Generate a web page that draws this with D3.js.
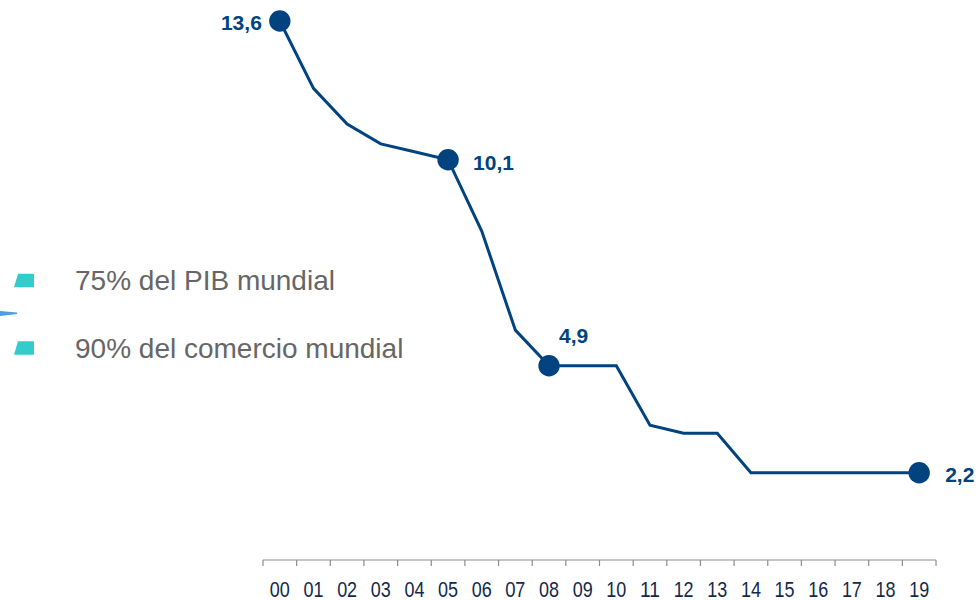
<!DOCTYPE html>
<html>
<head>
<meta charset="utf-8">
<script src="https://cdn.jsdelivr.net/npm/d3@7"></script>
<style>
  html, body { margin: 0; padding: 0; background: #ffffff; }
  svg { display: block; }
</style>
</head>
<body>
<svg id="chart" width="980" height="600"></svg>
<script>
// ---- data ----
const years = ["00","01","02","03","04","05","06","07","08","09","10","11","12","13","14","15","16","17","18","19"];
const values = [13.6, 11.9, 11.0, 10.5, 10.3, 10.1, 8.3, 5.8, 4.9, 4.9, 4.9, 3.4, 3.2, 3.2, 2.2, 2.2, 2.2, 2.2, 2.2, 2.2];
const highlighted = ["00", "05", "08", "19"];
const highlightLabels = ["13,6", "10,1", "4,9", "2,2"];
const legendItems = ["75% del PIB mundial", "90% del comercio mundial"];

// ---- layout ----
const svg = d3.select("#chart");
const lineColor = "#00437f";
const axisY = 560;

const x = d3.scaleBand().domain(years).range([263, 936]).padding(0);
const y = d3.scaleLinear().domain([0, 13.6]).range([axisY, 21]);
const cx = d => x(d) + x.bandwidth() / 2;

// ---- axis ----
const axisG = svg.append("g");
axisG.append("line")
  .attr("x1", x.range()[0]).attr("x2", x.range()[1])
  .attr("y1", axisY).attr("y2", axisY)
  .attr("stroke", "#8c8c8c").attr("stroke-width", 1.2);
const tickPos = years.map(d => x(d)).concat([x.range()[1]]);
axisG.selectAll("line.tick").data(tickPos).join("line")
  .attr("class", "tick")
  .attr("x1", d => d).attr("x2", d => d)
  .attr("y1", axisY).attr("y2", axisY + 6)
  .attr("stroke", "#8c8c8c").attr("stroke-width", 1.2);

const labelAxis = d3.axisBottom(x).tickSize(0).tickPadding(0);
const la = svg.append("g").attr("transform", `translate(0,${axisY})`).call(labelAxis);
la.select(".domain").remove();
la.selectAll("text")
  .attr("y", 36.5)
  .attr("dy", 0)
  .attr("fill", "#13294b")
  .attr("textLength", 20)
  .attr("lengthAdjust", "spacingAndGlyphs")
  .style("font-family", "'Liberation Sans', Arial, sans-serif")
  .style("font-size", "21.5px");

// ---- line ----
const data = years.map((d, i) => ({ year: d, value: values[i] }));
const line = d3.line().x(d => cx(d.year)).y(d => y(d.value));
svg.append("path")
  .datum(data)
  .attr("d", line)
  .attr("fill", "none")
  .attr("stroke", lineColor)
  .attr("stroke-width", 3)
  .attr("stroke-linejoin", "miter");

// ---- highlighted dots ----
const hl = data.filter(d => highlighted.includes(d.year));
svg.selectAll("circle.dot").data(hl).join("circle")
  .attr("class", "dot")
  .attr("cx", d => cx(d.year))
  .attr("cy", d => y(d.value))
  .attr("r", 10.7)
  .attr("fill", lineColor);

// label placements (offset relative to dot)
const labelOffsets = {
  "00": { dx: -18, dy: 9, anchor: "end" },
  "05": { dx: 25, dy: 10, anchor: "start" },
  "08": { dx: 10, dy: -23, anchor: "start" },
  "19": { dx: 26, dy: 9, anchor: "start" }
};
svg.selectAll("text.vlabel").data(hl).join("text")
  .attr("class", "vlabel")
  .attr("x", d => cx(d.year) + labelOffsets[d.year].dx)
  .attr("y", d => y(d.value) + labelOffsets[d.year].dy)
  .attr("text-anchor", d => labelOffsets[d.year].anchor)
  .attr("fill", lineColor)
  .style("font-family", "'Liberation Sans', Arial, sans-serif")
  .style("font-weight", "bold")
  .style("font-size", "21px")
  .text(d => highlightLabels[highlighted.indexOf(d.year)]);

// ---- legend ----
const legendYs = [280.5, 348];
const lg = svg.append("g");
lg.selectAll("path.mk").data(legendItems).join("path")
  .attr("class", "mk")
  .attr("d", (d, i) => {
    const c = legendYs[i];
    return `M18,${c - 6.8} L34,${c - 6.8} L34,${c + 6.8} L14,${c + 6.8} Z`;
  })
  .attr("fill", "#33cccc");
lg.selectAll("text.lt").data(legendItems).join("text")
  .attr("class", "lt")
  .attr("x", 75)
  .attr("y", (d, i) => legendYs[i] + 9.5)
  .attr("fill", "#666666")
  .style("font-family", "'Liberation Sans', Arial, sans-serif")
  .style("font-size", "28px")
  .text(d => d);

// small decorative blue stroke at the left edge
svg.append("path")
  .attr("d", "M0,311 L17,312.6 L17,314 L0,316 Z")
  .attr("fill", "#4a9fe3");
</script>
</body>
</html>
